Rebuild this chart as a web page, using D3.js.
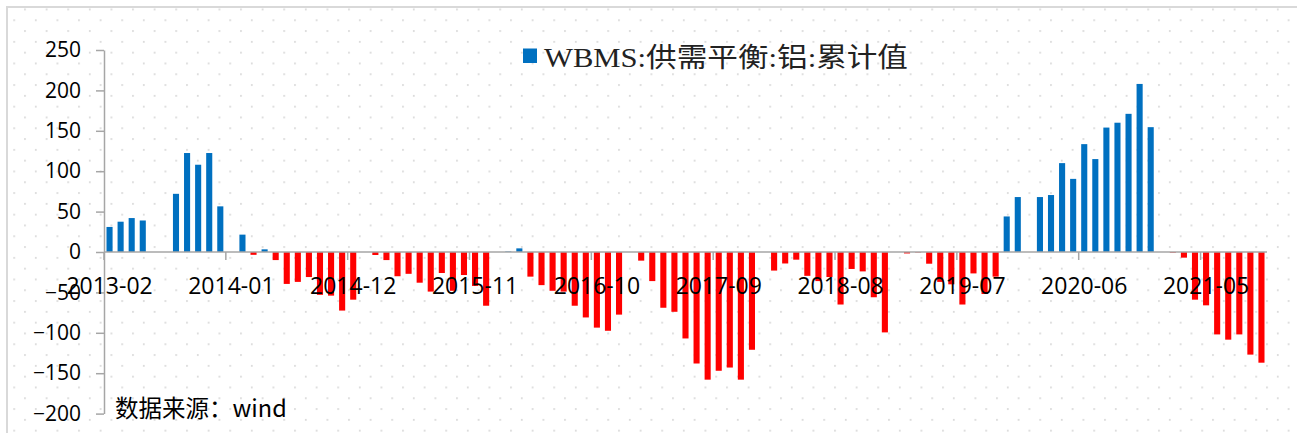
<!DOCTYPE html>
<html>
<head>
<meta charset="utf-8">
<script src="https://cdn.jsdelivr.net/npm/d3@7"></script>
<style>
  html, body { margin: 0; padding: 0; background: #fff; }
  svg { display: block; }
</style>
</head>
<body>
<svg id="chart" width="1297" height="433"></svg>
<script>
// monthly cumulative balance, 2013-02 .. 2021-10 (January not reported -> null)
var startMonth = "2013-02"
var values = [
  31, 37.5, 42, 39, null, null, 72, 122.5, 108, 122.5, 56.5,
  null, 21.5, -3.5, 3.3, -10, -39.5, -37, -31, -53, -54, -72.5, -59,
  null, -3.7, -10, -30, -27, -38, -49, -26, -48, -28.5, -42, -66.5,
  null, 0.6, 4.5, -30.5, -41, -48, -49, -66.5, -81, -93.6, -97.5, -77.5,
  null, -10.7, -36, -69, -74, -107, -138, -158, -147, -143, -158, -121,
  null, -23, -14.2, -9.5, -29.5, -36, -31, -65, -21, -24, -56, -99.5,
  null, -1.8, -0.5, -14.5, -37, -40, -65, -26.5, -52, -30.5, 44, 68,
  null, 68, 70.5, 110, 90.5, 133.5, 115, 154, 160, 171, 208, 154.5,
  null, -0.8, -7, -59, -66, -102, -108.5, -102, -127, -137
]
var xTickLabels = ["2013-02","2014-01","2014-12","2015-11","2016-10","2017-09","2018-08","2019-07","2020-06","2021-05"]
var yTicks = [-200, -150, -100, -50, 0, 50, 100, 150, 200, 250]
var seriesName = "WBMS:供需平衡:铝:累计值"
var sourceText = "数据来源：wind"

var fmt = d3.timeFormat("%Y-%m")
var parse = d3.timeParse("%Y-%m")
var t0 = parse(startMonth)
var months = values.map(function(v, i){ return fmt(d3.timeMonth.offset(t0, i)) })
var data = months.map(function(m, i){ return {m: m, v: values[i]} })

var svg = d3.select("#chart")
var margin = {top: 50, left: 104, right: 30, bottom: 19.4}
var W = 1297, H = 433

// dotted background
var defs = svg.append("defs")
var pat = defs.append("pattern").attr("id", "dots")
  .attr("patternUnits", "userSpaceOnUse")
  .attr("x", 13.3).attr("y", 19.3).attr("width", 21.6).attr("height", 21.6)
pat.append("circle").attr("cx", 0.9).attr("cy", 0.9).attr("r", 0.9).attr("fill", "#cfcfcf")
pat.append("circle").attr("cx", 11.7).attr("cy", 11.7).attr("r", 0.9).attr("fill", "#cfcfcf")

svg.append("rect").attr("width", W).attr("height", H).attr("fill", "#fff")
svg.append("rect").attr("x", 7).attr("y", 7).attr("width", W + 10).attr("height", H + 10)
  .attr("fill", "url(#dots)").attr("stroke", "#d9d9d9").attr("stroke-width", 2)

var x = d3.scaleBand().domain(months).range([margin.left, W - margin.right]).padding(0)
var y = d3.scaleLinear().domain([-200, 250]).range([H - margin.bottom, margin.top])

var barW = x.bandwidth() * 0.55

// bars
svg.append("g").selectAll("rect")
  .data(data.filter(function(d){ return d.v !== null }))
  .join("rect")
  .attr("x", function(d){ return x(d.m) + (x.bandwidth() - barW) / 2 })
  .attr("y", function(d){ return y(Math.max(0, d.v)) })
  .attr("width", barW)
  .attr("height", function(d){ return Math.abs(y(d.v) - y(0)) })
  .attr("fill", function(d){ return d.v >= 0 ? "#0070C0" : "#FF0000" })

var axisColor = "#a6a6a6"

// y axis
var yAxis = svg.append("g").attr("transform", "translate(" + margin.left + ",0)")
  .call(d3.axisLeft(y).tickValues(yTicks).tickSize(8).tickPadding(15).tickSizeOuter(0))
yAxis.select(".domain").attr("stroke", axisColor).attr("stroke-width", 1.5)
yAxis.selectAll(".tick line").attr("stroke", axisColor).attr("stroke-width", 1.5)
yAxis.selectAll("text").attr("font-family", "'Open Sans', sans-serif").attr("font-size", 21).attr("fill", "#000")

// x axis at zero line
var zeroG = svg.append("g").attr("transform", "translate(0," + y(0) + ")")
zeroG.append("line").attr("x1", margin.left).attr("x2", W - margin.right)
  .attr("stroke", axisColor).attr("stroke-width", 1.5)
zeroG.selectAll("line.tk").data(xTickLabels).join("line").attr("class", "tk")
  .attr("x1", function(d){ return x(d) }).attr("x2", function(d){ return x(d) })
  .attr("y1", 0).attr("y2", 8).attr("stroke", axisColor).attr("stroke-width", 1.5)
var xAxis = zeroG.append("g")
  .call(d3.axisBottom(x).tickValues(xTickLabels).tickSize(0).tickPadding(26))
xAxis.select(".domain").remove()
xAxis.selectAll("text").attr("font-family", "'Open Sans', sans-serif").attr("font-size", 23).attr("fill", "#000")

// legend
svg.append("rect").attr("x", 523).attr("y", 48.5).attr("width", 14).attr("height", 14.5).attr("fill", "#0070C0")
svg.append("text").attr("x", 544).attr("y", 67)
  .attr("font-family", "'Liberation Serif', 'Noto Sans CJK SC', serif")
  .attr("font-size", 27).attr("fill", "#222")
  .attr("textLength", 364).attr("lengthAdjust", "spacingAndGlyphs")
  .text(seriesName)

// source
svg.append("text").attr("x", 115).attr("y", 417)
  .attr("font-family", "'Noto Sans CJK SC', 'Open Sans', sans-serif")
  .attr("font-size", 23.5).attr("fill", "#000")
  .text(sourceText)
</script>
</body>
</html>
